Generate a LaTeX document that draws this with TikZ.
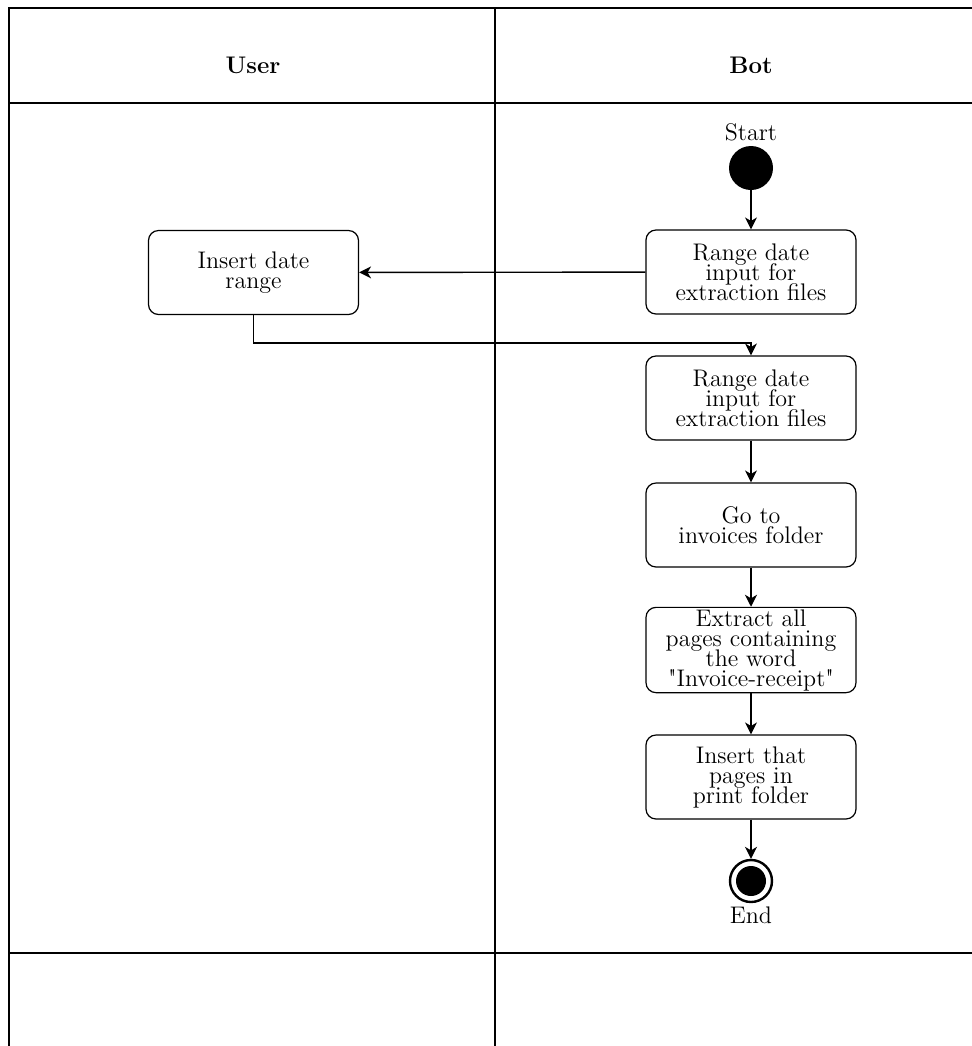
\documentclass[tikz,border=0pt]{standalone}
\usetikzlibrary{arrows.meta}
\newcommand{\actfont}{\fontsize{12}{10}\selectfont\lineskiplimit=-20pt\relax}
\begin{document}
\begin{tikzpicture}[x=0.5pt,y=-0.5pt,
  lane/.style={line width=0.6pt},
  action/.style={draw, line width=0.6pt, rounded corners=5pt, minimum width=105pt,
    minimum height=42pt, align=center, inner sep=1pt, font=\actfont},
  flow/.style={line width=0.7pt, -{Stealth[length=6pt,width=6pt,inset=1.8pt]}},
  lanehead/.style={font=\fontsize{12}{14}\selectfont\bfseries},
  plain/.style={font=\fontsize{12}{13}\selectfont}
]
\useasboundingbox (0,0) rectangle (972,1046);
\clip (0,0) rectangle (972,1046);

% swimlane frame
\draw[lane] (9,1060) -- (9,8) -- (990,8);
\draw[lane] (495,8) -- (495,1060);
\draw[lane] (9,103) -- (990,103);
\draw[lane] (9,953) -- (990,953);
\node[lanehead] (hUser) at (253,65) {User};
\node[lanehead] (hBot) at (751,65) {Bot};

% initial node
\node[plain] (startlbl) at (751,132) {Start};
\node[circle, fill=black, minimum size=22pt, inner sep=0pt] (start) at (751,168) {};

% activities
\node[action] (range1) at (751,272) {Range date\\input for\\extraction files};
\node[action] (insert) at (253.5,272.5) {Insert date\\range};
\node[action] (range2) at (751,398) {Range date\\input for\\extraction files};
\node[action] (goto) at (751,525) {Go to\\invoices folder};
\node[action] (extract) at (751,650) {Extract all\\pages containing\\the word\\\textquotedbl Invoice-receipt\textquotedbl};
\node[action] (insertp) at (751,777) {Insert that\\pages in\\print folder};

% final node
\node[circle, draw, line width=1.2pt, minimum size=21pt, inner sep=0pt] (final) at (751,881) {};
\node[circle, fill=black, minimum size=15pt, inner sep=0pt] (finaldot) at (final.center) {};
\node[plain] (endlbl) at (751,915) {End};

% control flow
\draw[flow] (start) -- (range1);
\draw[flow] (range1) -- (insert);
\draw[flow] (insert.south) |- (751,343) -- (range2.north);
\draw[flow] (range2) -- (goto);
\draw[flow] (goto) -- (extract);
\draw[flow] (extract) -- (insertp);
\draw[flow] (insertp) -- (final);
\end{tikzpicture}
\end{document}
